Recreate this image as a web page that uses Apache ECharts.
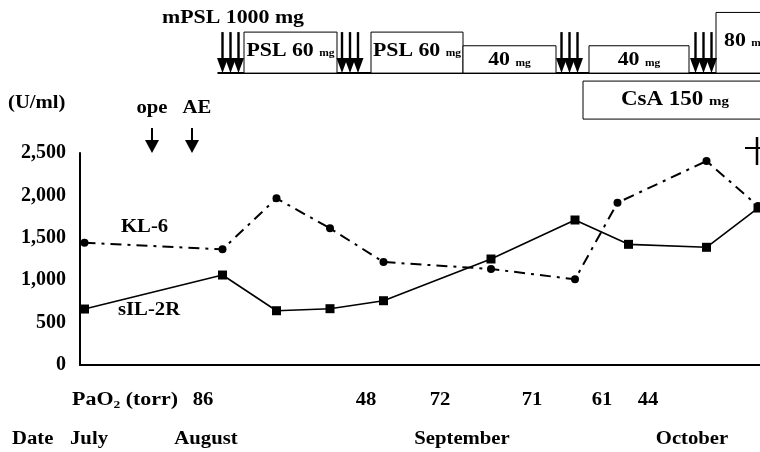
<!DOCTYPE html>
<html>
<head>
<meta charset="utf-8">
<script src="https://cdn.jsdelivr.net/npm/echarts@6/dist/echarts.min.js"></script>
<style>
  html, body { margin: 0; padding: 0; background: #fff; }
  #chart { width: 760px; height: 452px; }
</style>
</head>
<body>
<div id="chart"></div>
<script>
// x positions are days from the start of the course (approx)
const sil2rDays = [0.9, 28.5, 39.3, 50, 60.7, 82.2, 99, 109.7, 125.3, 135.6]
const sil2rValues = [660, 1061, 640, 664, 758, 1250, 1710, 1423, 1388, 1851]
const kl6Days = [0.9, 28.5, 39.3, 50, 60.7, 82.2, 99, 107.5, 125.3, 135.6]
const kl6Values = [1442, 1364, 1965, 1612, 1214, 1132, 1010, 1914, 2405, 1875]

const yTicks = [0, 500, 1000, 1500, 2000, 2500]

// oral PSL courses: [startDay, endDay, dose mg, label]
const pslCourses = [
  [32.8, 51.4, 60, 'PSL 60'],
  [58.2, 76.6, 60, 'PSL 60'],
  [76.6, 95.2, 40, '40'],
  [101.8, 121.8, 40, '40'],
  [127.2, 150, 80, '80'],
]
// mPSL 1000 mg pulses
const pulseDays = [30.1, 54, 97.9, 124.7]
// CsA course: [startDay, endDay, label]
const csaCourses = [[100.6, 150, 'CsA 150']]
// events
const eventDays = [14.4, 22.4]
const eventNames = ['ope', 'AE']
// PaO2 (torr)
const pao2Days = [24.6, 57.2, 72, 90.4, 104.4, 113.6]
const pao2Values = [86, 48, 72, 71, 61, 44]
// month labels
const monthDays = [1.8, 25.2, 76.4, 122.4]
const monthNames = ['July', 'August', 'September', 'October']
const deathDay = 135.4

const FONT = '"Liberation Serif", "Times New Roman", serif'
const BLACK = '#000'
// the scanned figure is a bit stretched sideways
const STRETCH = 1.15

const chart = echarts.init(document.getElementById('chart'))

const zip = (xs, ys) => xs.map((x, i) => [x, ys[i]])

const boldText = (x, y, text, size, align) => ({
  type: 'text',
  x, y, scaleX: STRETCH,
  style: {
    text, fill: BLACK, font: `bold ${size}px ${FONT}`,
    align: align || 'center', verticalAlign: 'middle',
  },
})

const option = {
  animation: false,
  backgroundColor: '#fff',
  grid: [
    { left: 80, right: 0, top: 153, bottom: 87 },
    { left: 80, right: 0, top: 0, height: 125 },
  ],
  xAxis: [
    {
      type: 'value', gridIndex: 0, min: 0, max: 136,
      axisLine: { show: true, lineStyle: { color: BLACK, width: 2 } },
      axisTick: { show: false }, axisLabel: { show: false }, splitLine: { show: false },
    },
    { type: 'value', gridIndex: 1, min: 0, max: 136, show: false },
  ],
  yAxis: [
    {
      type: 'value', gridIndex: 0, min: 0, max: 2500, interval: 500,
      axisLine: { show: true, lineStyle: { color: BLACK, width: 2 } },
      axisTick: { show: false }, splitLine: { show: false },
      axisLabel: {
        color: BLACK, fontFamily: FONT, fontWeight: 'bold', fontSize: 20, margin: 14,
        formatter: v => yTicks.includes(v) ? v.toLocaleString('en-US') : '',
      },
    },
    { type: 'value', gridIndex: 1, min: -76, max: 107, show: false },
  ],
  graphic: [
    boldText(8, 103, '(U/ml)', 18, 'left'),
    boldText(162, 18, 'mPSL 1000 mg', 19, 'left'),
    boldText(121, 227, 'KL-6', 18, 'left'),
    boldText(118, 310, 'sIL-2R', 18, 'left'),
    boldText(12, 439, 'Date', 18, 'left'),
    {
      type: 'text', x: 72, y: 400, scaleX: 1.22,
      style: {
        text: '{m|PaO}{s|2}{m| (torr)}', verticalAlign: 'middle',
        rich: {
          m: { font: `bold 18px ${FONT}`, fill: BLACK },
          s: { font: `bold 11px ${FONT}`, fill: BLACK, padding: [10, 0, 0, 0] },
        },
      },
    },
  ],
  series: [
    {
      name: 'sIL-2R', type: 'line', xAxisIndex: 0, yAxisIndex: 0,
      data: zip(sil2rDays, sil2rValues),
      symbol: 'rect', symbolSize: 9, clip: false,
      itemStyle: { color: BLACK },
      lineStyle: { color: BLACK, width: 1.6 },
    },
    {
      name: 'KL-6', type: 'line', xAxisIndex: 0, yAxisIndex: 0,
      data: zip(kl6Days, kl6Values),
      symbol: 'circle', symbolSize: 8, clip: false,
      itemStyle: { color: BLACK },
      lineStyle: { color: BLACK, width: 2, type: [11, 6, 3, 6] },
    },
    {
      // baseline of the treatment strip
      type: 'custom', xAxisIndex: 1, yAxisIndex: 1, silent: true,
      data: [[pulseDays[0] - 2.6, 150]],
      renderItem: (params, api) => {
        const a = api.coord([api.value(0), 0])
        const b = api.coord([api.value(1), 0])
        return {
          type: 'line',
          shape: { x1: a[0], y1: a[1], x2: b[0], y2: b[1] },
          style: { stroke: BLACK, lineWidth: 2 },
        }
      },
    },
    {
      type: 'custom', xAxisIndex: 1, yAxisIndex: 1, silent: true,
      data: pslCourses,
      renderItem: (params, api) => {
        const item = pslCourses[params.dataIndex]
        const tl = api.coord([item[0], item[2]])
        const br = api.coord([item[1], 0])
        const clipped = item[1] > 136
        if (clipped) tl[1] -= 6
        return {
          type: 'group',
          children: [
            {
              type: 'rect',
              shape: { x: tl[0], y: tl[1], width: br[0] - tl[0], height: br[1] - tl[1] },
              style: { fill: '#fff', stroke: BLACK, lineWidth: 1 },
            },
            {
              type: 'text',
              x: clipped ? tl[0] + 8 : (tl[0] + br[0]) / 2,
              y: (tl[1] + br[1]) / 2 - (item[2] >= 60 ? 2 : -1),
              scaleX: STRETCH,
              style: {
                text: `{b|${item[3]} }{s|mg}`,
                align: clipped ? 'left' : 'center', verticalAlign: 'middle',
                rich: {
                  b: { font: `bold 19px ${FONT}`, fill: BLACK },
                  s: { font: `bold 10px ${FONT}`, fill: BLACK, padding: [5, 0, 0, 0] },
                },
              },
            },
          ],
        }
      },
    },
    {
      type: 'custom', xAxisIndex: 1, yAxisIndex: 1, silent: true,
      data: pulseDays.map(d => [d, 0]),
      renderItem: (params, api) => {
        const p = api.coord([api.value(0), 0])
        const children = []
        for (const dx of [-8, 0, 8]) {
          const x = p[0] + dx
          children.push({
            type: 'line',
            shape: { x1: x, y1: p[1] - 41, x2: x, y2: p[1] - 12 },
            style: { stroke: BLACK, lineWidth: 2.4 },
          })
          children.push({
            type: 'polygon',
            shape: { points: [[x - 5.5, p[1] - 15], [x + 5.5, p[1] - 15], [x, p[1]]] },
            style: { fill: BLACK },
          })
        }
        return { type: 'group', children }
      },
    },
    {
      type: 'custom', xAxisIndex: 1, yAxisIndex: 1, silent: true,
      data: csaCourses,
      renderItem: (params, api) => {
        const item = csaCourses[params.dataIndex]
        const a = api.coord([item[0], 0])
        const b = api.coord([item[1], 0])
        const top = a[1] + 8
        const h = 38
        return {
          type: 'group',
          children: [
            {
              type: 'rect',
              shape: { x: a[0], y: top, width: b[0] - a[0], height: h },
              style: { fill: '#fff', stroke: BLACK, lineWidth: 1 },
            },
            {
              type: 'text', x: a[0] + 92, y: top + h / 2, scaleX: STRETCH,
              style: {
                text: `{b|${item[2]} }{s|mg}`, align: 'center', verticalAlign: 'middle',
                rich: {
                  b: { font: `bold 20px ${FONT}`, fill: BLACK },
                  s: { font: `bold 13px ${FONT}`, fill: BLACK, padding: [4, 0, 0, 0] },
                },
              },
            },
          ],
        }
      },
    },
    {
      // ope / AE arrows
      type: 'custom', xAxisIndex: 0, yAxisIndex: 0, silent: true,
      data: eventDays.map(d => [d, 2500]),
      renderItem: (params, api) => {
        const p = api.coord([api.value(0), 2500])
        return {
          type: 'group',
          children: [
            {
              type: 'line',
              shape: { x1: p[0], y1: p[1] - 25, x2: p[0], y2: p[1] - 12 },
              style: { stroke: BLACK, lineWidth: 2 },
            },
            {
              type: 'polygon',
              shape: { points: [[p[0] - 7, p[1] - 13], [p[0] + 7, p[1] - 13], [p[0], p[1]]] },
              style: { fill: BLACK },
            },
            boldText(p[0] + (params.dataIndex ? 5 : 0), p[1] - 45, eventNames[params.dataIndex], 18),
          ],
        }
      },
    },
    {
      // death mark
      type: 'custom', xAxisIndex: 0, yAxisIndex: 0, silent: true,
      data: [[deathDay, 2500]],
      renderItem: (params, api) => {
        const p = api.coord([api.value(0), 2500])
        return {
          type: 'group',
          children: [
            { type: 'line', shape: { x1: p[0], y1: p[1] - 16, x2: p[0], y2: p[1] + 12 },
              style: { stroke: BLACK, lineWidth: 2.5 } },
            { type: 'line', shape: { x1: p[0] - 12, y1: p[1] - 5, x2: p[0] + 4, y2: p[1] - 5 },
              style: { stroke: BLACK, lineWidth: 2 } },
          ],
        }
      },
    },
    {
      // PaO2 row
      type: 'custom', xAxisIndex: 0, yAxisIndex: 0, silent: true,
      data: zip(pao2Days, pao2Values),
      renderItem: (params, api) => {
        const p = api.coord([api.value(0), 0])
        return boldText(p[0], p[1] + 35, String(pao2Values[params.dataIndex]), 18)
      },
    },
    {
      // month row
      type: 'custom', xAxisIndex: 0, yAxisIndex: 0, silent: true,
      data: monthDays.map(d => [d, 0]),
      renderItem: (params, api) => {
        const p = api.coord([api.value(0), 0])
        return boldText(p[0], p[1] + 74, monthNames[params.dataIndex], 18)
      },
    },
  ],
}

chart.setOption(option)
</script>
</body>
</html>
